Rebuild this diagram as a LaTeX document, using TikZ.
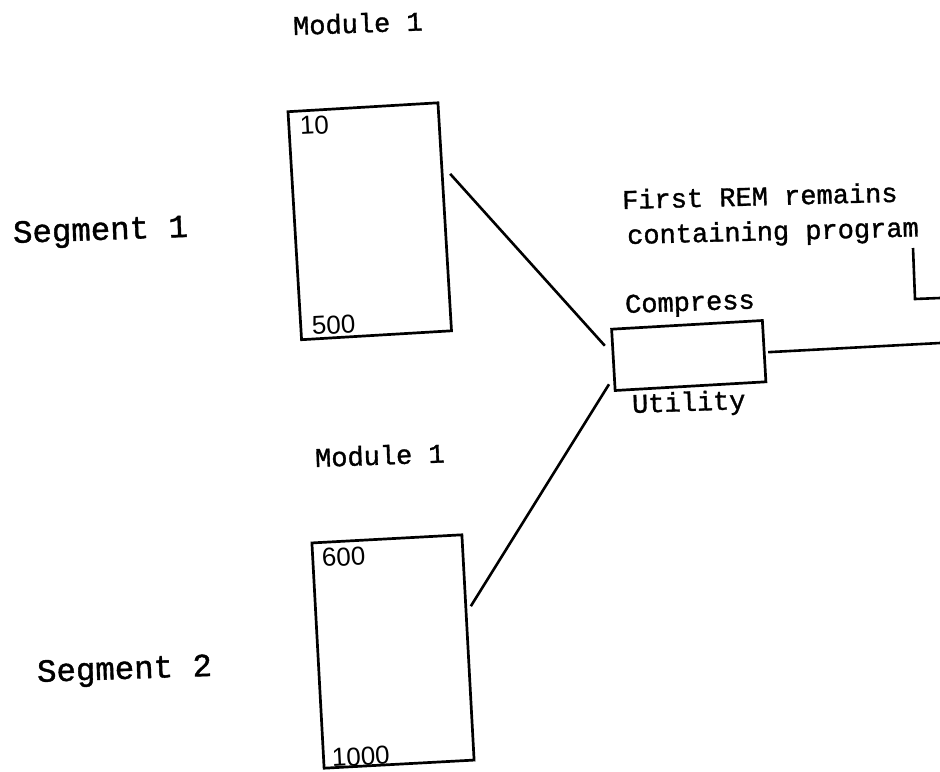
\documentclass[tikz,border=0pt]{standalone}
\usepackage{fontspec}
\setmainfont{Liberation Sans}
\newfontfamily\typew[FakeBold=1.2]{Liberation Mono}
\usetikzlibrary{calc}
\tikzset{
  box/.style={draw, line width=1.35pt, inner sep=0pt, outer sep=0pt},
  conn/.style={line width=1.3pt},
  tw/.style={font=\typew\fontsize{13.5}{16}\selectfont, anchor=base west, inner sep=0pt, rotate=2},
  twbig/.style={font=\typew\fontsize{16.2}{19}\selectfont, anchor=base west, inner sep=0pt, rotate=2},
  num/.style={font=\fontsize{13}{15}\selectfont, anchor=base west, inner sep=0pt, rotate=3},
}
\begin{document}
\begin{tikzpicture}[x=0.5pt, y=-0.5pt]
\useasboundingbox (0,0) rectangle (940,771);

% boxes
\node[box, minimum width=75.1pt, minimum height=114.2pt, rotate=3.4] (b1) at (369.75,221.25) {};
\node[box, minimum width=75.1pt, minimum height=112.8pt, rotate=3.1] (b2) at (393,651.5) {};
\node[box, minimum width=75.5pt, minimum height=30.7pt, rotate=3.3] (cu) at (688.75,355.5) {};

% texts
\node[tw] (m1) at (293,35) {Module 1};
\node[twbig] (s1) at (13,243) {Segment 1};
\node[tw] (m2) at (315,467) {Module 1};
\node[twbig] (s2) at (37,682) {Segment 2};
\node[tw, rotate=-0.5] (fr) at (622,209) {First REM remains};
\node[tw, rotate=-0.5] (cp) at (627,244) {containing program};
\node[tw] (cmp) at (625,313) {Compress};
\node[tw] (ut) at (632,413) {Utility};

\node[num] (n10) at (300,135) {10};
\node[num] (n500) at (312,335) {500};
\node[num] (n600) at (322,567) {600};
\node[num] (n1000) at (332,767) {1000};

% connectors
\draw[conn, shorten <=6.4pt, shorten >=6.2pt]
  ($(b1.north east)!0.27!(b1.south east)$) -- ($(cu.north west)!0.42!(cu.south west)$);
\draw[conn, shorten <=4.4pt, shorten >=5pt]
  ($(b2.north east)!0.35!(b2.south east)$) -- ($(cu.north west)!0.76!(cu.south west)$);
\coordinate (rend) at (940,343);
\draw[conn, shorten <=2pt] ($(cu.north east)!0.52!(cu.south east)$) -- (rend);

% bracket
\coordinate (bt) at (913,248);
\coordinate (bb) at (915,299);
\coordinate (br) at (940,298);
\draw[conn] (bt) -- (bb) -- (br);
\end{tikzpicture}
\end{document}
